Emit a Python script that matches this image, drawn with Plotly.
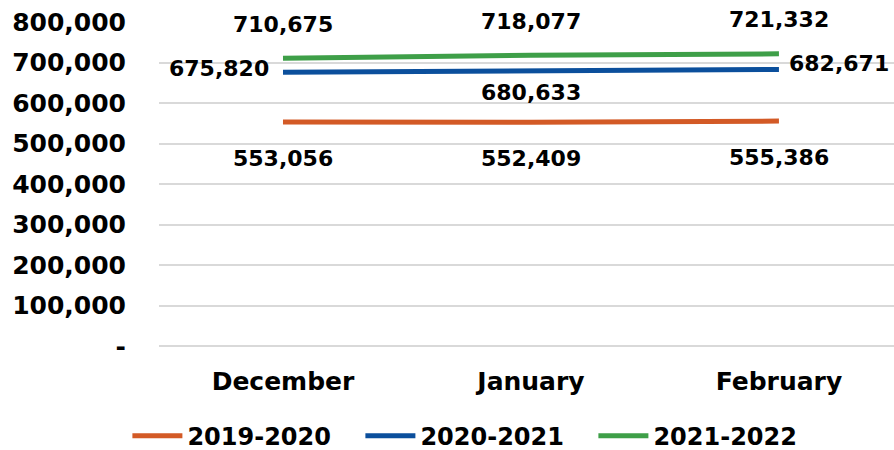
import plotly.graph_objects as go

months = ["December", "January", "February"]
s2019 = [553056, 552409, 555386]
s2020 = [675820, 680633, 682671]
s2021 = [710675, 718077, 721332]
series_names = ["2019-2020", "2020-2021", "2021-2022"]
colors = ["#D35A26", "#0B4F9C", "#3E9F48"]
tickvals = [0, 100000, 200000, 300000, 400000, 500000, 600000, 700000, 800000]
ticktext = ["-", "100,000", "200,000", "300,000", "400,000", "500,000", "600,000", "700,000", "800,000"]

FONT = "DejaVu Sans"
fig = go.Figure()
for name, vals, c in zip(series_names, [s2019, s2020, s2021], colors):
    fig.add_trace(go.Scatter(x=months, y=vals, mode="lines", name=name,
                             line=dict(color=c, width=5)))

ann = []
def lab(x, y, **kw):
    d = dict(x=x, y=y, xref="x", yref="y", text=f"{y:,}", showarrow=False,
             font=dict(family=FONT, size=22, color="black", weight="bold"))
    d.update(kw)
    ann.append(d)

# 2019-2020 below
for m, v in zip(months, s2019):
    lab(m, v, yshift=-36)
# 2021-2022 above
for m, v in zip(months, s2021):
    lab(m, v, yshift=34)
# 2020-2021
lab(months[0], s2020[0], xanchor="right", xshift=-12, yshift=4)
lab(months[1], s2020[1], yshift=-22)
lab(months[2], s2020[2], xanchor="left", xshift=8, yshift=6)

fig.update_layout(
    width=894, height=450,
    margin=dict(l=159, r=0, t=22, b=104, autoexpand=False),
    paper_bgcolor="white", plot_bgcolor="white",
    showlegend=True,
    legend=dict(orientation="h", x=-0.043, xanchor="left", y=-0.278, yanchor="middle",
                font=dict(family=FONT, size=24, color="black", weight="bold"),
                itemwidth=50, entrywidth=168, entrywidthmode="pixels", tracegroupgap=0),
    annotations=ann,
    xaxis=dict(range=[-0.5, 2.464], showgrid=False, showline=False, zeroline=False,
               ticks="", ticklabelstandoff=18,
               tickfont=dict(family=FONT, size=25, color="black", weight="bold")),
    yaxis=dict(range=[0, 800000], tickvals=tickvals, ticktext=ticktext,
               showgrid=True, gridcolor="#D9D9D9", gridwidth=1.5,
               zeroline=True, zerolinecolor="#D9D9D9", zerolinewidth=1.5,
               showline=False, ticks="", ticklabelstandoff=32, ticklabeloverflow="allow",
               tickfont=dict(family=FONT, size=25, color="black", weight="bold")),
)
fig.write_html("out.html", config={"displayModeBar": False},
               post_script="document.body.style.margin='0';")
